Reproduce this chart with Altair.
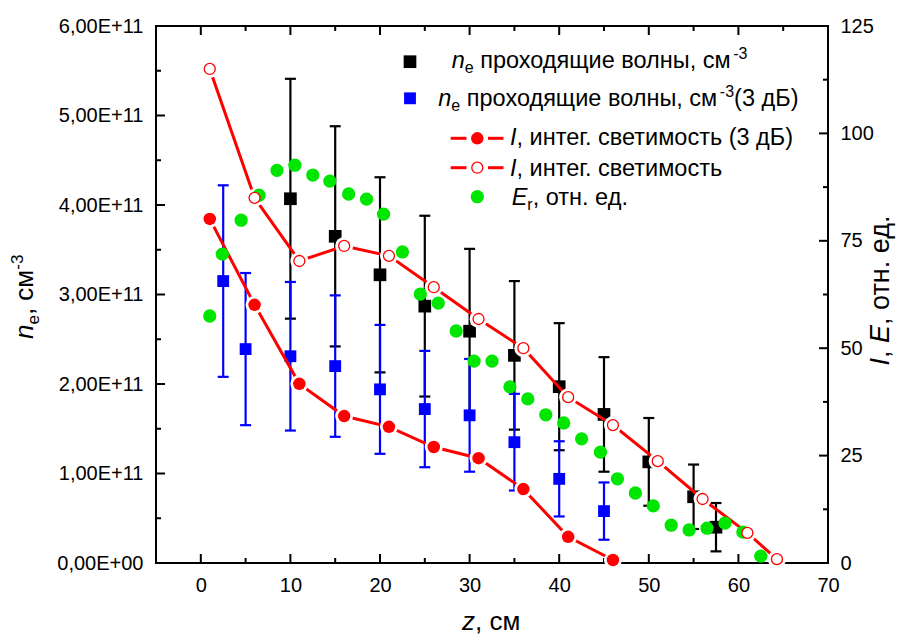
import altair as alt
import pandas as pd

FONT = "Liberation Sans"
RED = "#ff0000"
BLUE = "#0000ff"
GREEN = "#00e600"

# n_e of transmitted waves, cm^-3 (value and half-width of the error bar)
ne_z = [10, 15, 20, 25, 30, 35, 40, 45, 50, 55, 57.5]
ne_val = [4.07e11, 3.65e11, 3.22e11, 2.87e11, 2.59e11, 2.32e11, 1.97e11, 1.66e11, 1.13e11, 0.74e11, 0.40e11]
ne_err = [1.34e11, 1.23e11, 1.09e11, 1.01e11, 0.92e11, 0.83e11, 0.71e11, 0.64e11, 0.49e11, 0.36e11, 0.27e11]

# n_e of transmitted waves, 3 dB level
ne3_z = [2.5, 5, 10, 15, 20, 25, 30, 35, 40, 45]
ne3_val = [3.15e11, 2.39e11, 2.31e11, 2.20e11, 1.94e11, 1.72e11, 1.65e11, 1.35e11, 0.94e11, 0.58e11]
ne3_err = [1.07e11, 0.85e11, 0.83e11, 0.79e11, 0.72e11, 0.65e11, 0.63e11, 0.54e11, 0.42e11, 0.32e11]

# integral luminosity I (3 dB), rel. units
lum3_z = [1, 6, 11, 16, 21, 26, 31, 36, 41, 46]
lum3_val = [80.1, 60.1, 41.7, 34.2, 31.7, 27.0, 24.4, 17.2, 6.1, 0.7]

# integral luminosity I, rel. units
lum_z = [1, 6, 11, 16, 21, 26, 31, 36, 41, 46, 51, 56, 61, 64.3]
lum_val = [115.0, 85.0, 70.3, 73.8, 71.5, 64.2, 56.8, 50.0, 38.6, 32.1, 23.7, 14.9, 7.0, 0.9]

# E_r, rel. units
er_z = [1.0, 2.4, 4.5, 6.5, 8.5, 10.5, 12.5, 14.4, 16.5, 18.5, 20.4, 22.5, 24.5, 26.5, 28.5, 30.5,
        32.5, 34.5, 36.5, 38.5, 40.5, 42.5, 44.6, 46.5, 48.5, 50.5, 52.5, 54.5, 56.5, 58.5, 60.5, 62.5]
er_val = [57.5, 71.9, 79.8, 85.6, 91.4, 92.6, 90.3, 88.9, 85.9, 84.7, 81.2, 72.4, 62.6, 60.5, 54.0, 47.0,
          47.0, 41.0, 38.2, 34.5, 32.6, 28.9, 25.8, 19.6, 16.3, 13.3, 8.8, 7.7, 8.1, 9.3, 7.2, 1.6]

# axis ticks
x_major = [0, 10, 20, 30, 40, 50, 60, 70]
x_minor = [5, 15, 25, 35, 45, 55, 65]
left_major = [0, 1e11, 2e11, 3e11, 4e11, 5e11, 6e11]
left_minor = [0.5e11, 1.5e11, 2.5e11, 3.5e11, 4.5e11, 5.5e11]
right_major = [0, 25, 50, 75, 100, 125]
right_minor = [12.5, 37.5, 62.5, 87.5, 112.5]

W, H = 672, 537
MAJ, MIN = 9, 5

ne_df = pd.DataFrame({"z": ne_z, "v": ne_val, "e": ne_err})
ne3_df = pd.DataFrame({"z": ne3_z, "v": ne3_val, "e": ne3_err})
for d in (ne_df, ne3_df):
    d["lo"] = d["v"] - d["e"]
    d["hi"] = d["v"] + d["e"]
lum3_df = pd.DataFrame({"z": lum3_z, "v": lum3_val})
lum_df = pd.DataFrame({"z": lum_z, "v": lum_val})
er_df = pd.DataFrame({"z": er_z, "v": er_val})
ONE = pd.DataFrame({"k": [0]})

x_scale = alt.Scale(domain=[-5, 70], nice=False, zero=False)
yl_scale = alt.Scale(domain=[0, 6e11], nice=False, zero=False)
yr_scale = alt.Scale(domain=[0, 125], nice=False, zero=False)

axis_common = dict(grid=False, domain=False, ticks=False, tickSize=0, labelFont=FONT,
                   labelFontSize=20, labelColor="black", labelFlush=False,
                   labelOverlap=False, title=None)
x_axis = alt.Axis(values=x_major, format="d", labelPadding=12, orient="bottom", **axis_common)
yl_axis = alt.Axis(values=left_major, labelPadding=13, orient="left",
                   labelExpr="datum.value == 0 ? '0,00E+00' : "
                             "replace(format(datum.value / 1e11, '.2f'), '.', ',') + 'E+11'",
                   **axis_common)
yr_axis = alt.Axis(values=right_major, format="d", labelPadding=12, orient="right", **axis_common)


def X(f):
    return alt.X(f, type="quantitative", scale=x_scale, axis=x_axis)


def YL(f):
    return alt.Y(f, type="quantitative", scale=yl_scale, axis=yl_axis)


def YR(f):
    return alt.Y(f, type="quantitative", scale=yr_scale, axis=yr_axis)


# approximate Arial / Liberation Sans advance widths (per 1000 em)
ADV = {' ': 278, ',': 278, '.': 278, '-': 333, '(': 333, ')': 333, '+': 584,
       'E': 667, 'I': 278, 'n': 556, 'e': 556, 'r': 333, 'z': 500, 'а': 556, 'б': 572,
       'в': 531, 'г': 365, 'д': 584, 'е': 556, 'и': 560, 'к': 438, 'л': 584, 'м': 688,
       'н': 553, 'о': 556, 'п': 546, 'р': 556, 'с': 500, 'т': 459, 'у': 500, 'х': 500,
       'щ': 830, 'ы': 736, 'ь': 531, 'я': 542, 'Б': 667}


def text_width(s, size):
    return sum(ADV.get(c, 556) for c in s) / 1000 * size


def label(s, x, y, size, style="normal", angle=0):
    return alt.Chart(ONE).mark_text(
        text=s, font=FONT, fontSize=size, fontStyle=style, align="left",
        baseline="alphabetic", angle=angle, color="black",
    ).encode(x=alt.value(x), y=alt.value(y))


def rich(segs, x0, y0, angle=0):
    """Text made of runs: (text, size, style, baseline shift)."""
    out, adv = [], 0.0
    for s, size, style, shift in segs:
        lead = len(s) - len(s.lstrip(" "))
        adv += text_width(" " * lead, size)
        s = s.lstrip(" ")
        if angle == 0:
            out.append(label(s, x0 + adv, y0 + shift, size, style))
        else:  # rotated 270: runs go upward, glyph 'down' points to +x
            out.append(label(s, x0 + shift, y0 - adv, size, style, angle))
        adv += text_width(s, size)
    return out


def err_layers(df, color):
    bars = alt.Chart(df).mark_rule(color=color, strokeWidth=2.2).encode(
        x=X("z"), y=YL("lo"), y2=alt.Y2("hi"))
    caps = alt.Chart(df).transform_fold(["lo", "hi"], as_=["end", "yv"]).mark_rule(
        color=color, strokeWidth=2.2, xOffset=-5.5, x2Offset=5.5
    ).encode(x=X("z"), x2=alt.X2("z"), y=YL("yv"))
    return [bars, caps]


def tick_df(vals):
    return pd.DataFrame({"v": vals})


# ---------- left-axis group: n_e data ----------
left_layers = []
left_layers += err_layers(ne_df, "black")
left_layers += err_layers(ne3_df, BLUE)
left_layers.append(alt.Chart(ne_df).mark_square(size=161, color="black", opacity=1).encode(
    x=X("z"), y=YL("v")))
left_layers.append(alt.Chart(ne3_df).mark_square(size=140, color=BLUE, opacity=1).encode(
    x=X("z"), y=YL("v")))

# inward ticks: left, bottom, top
for vals, ln in ((left_major, MAJ), (left_minor, MIN)):
    left_layers.append(alt.Chart(tick_df(vals)).mark_rule(color="black", strokeWidth=2).encode(
        y=YL("v"), x=alt.value(0), x2=alt.value(ln)))
for vals, ln in ((x_major, MAJ), (x_minor, MIN)):
    left_layers.append(alt.Chart(tick_df(vals)).mark_rule(color="black", strokeWidth=2).encode(
        x=X("v"), y=alt.value(H), y2=alt.value(H - ln)))
    left_layers.append(alt.Chart(tick_df(vals)).mark_rule(color="black", strokeWidth=2).encode(
        x=X("v"), y=alt.value(0), y2=alt.value(ln)))

# legend: square markers
left_layers.append(alt.Chart(ONE).mark_square(size=161, color="black", opacity=1).encode(
    x=alt.value(254), y=alt.value(35.7)))
left_layers.append(alt.Chart(ONE).mark_square(size=140, color=BLUE, opacity=1).encode(
    x=alt.value(254), y=alt.value(72.3)))

# ---------- right-axis group: luminosity and E_r ----------
right_layers = []
for df in (lum3_df, lum_df):
    right_layers.append(alt.Chart(df).mark_line(color=RED, strokeWidth=3).encode(
        x=X("z"), y=YR("v")))
for df in (lum3_df, lum_df):
    right_layers.append(alt.Chart(df).mark_point(
        shape="circle", filled=True, color="white", size=324, opacity=1, strokeWidth=0
    ).encode(x=X("z"), y=YR("v")))
right_layers.append(alt.Chart(er_df).mark_point(
    shape="circle", filled=True, color=GREEN, size=177, opacity=1, strokeWidth=0
).encode(x=X("z"), y=YR("v")))
right_layers.append(alt.Chart(lum3_df).mark_point(
    shape="circle", filled=True, color=RED, size=156, opacity=1, strokeWidth=0
).encode(x=X("z"), y=YR("v")))
right_layers.append(alt.Chart(lum_df).mark_point(
    shape="circle", filled=True, fill="white", stroke=RED, strokeWidth=1.3, size=121, opacity=1
).encode(x=X("z"), y=YR("v")))

for vals, ln in ((right_major, MAJ), (right_minor, MIN)):
    right_layers.append(alt.Chart(tick_df(vals)).mark_rule(color="black", strokeWidth=2).encode(
        y=YR("v"), x=alt.value(W - ln), x2=alt.value(W)))

# legend: line + circle samples
for yy, open_marker in ((112.3, False), (141.7, True)):
    for a, b in ((294.7, 310.5), (332, 347.5)):
        right_layers.append(alt.Chart(ONE).mark_rule(color=RED, strokeWidth=3).encode(
            x=alt.value(a), x2=alt.value(b), y=alt.value(yy)))
    if open_marker:
        mk = alt.Chart(ONE).mark_point(shape="circle", filled=True, fill="white", stroke=RED,
                                       strokeWidth=1.3, size=121, opacity=1)
    else:
        mk = alt.Chart(ONE).mark_point(shape="circle", filled=True, color=RED, size=156,
                                       opacity=1, strokeWidth=0)
    right_layers.append(mk.encode(x=alt.value(321.3), y=alt.value(yy)))
right_layers.append(alt.Chart(ONE).mark_point(
    shape="circle", filled=True, color=GREEN, size=177, opacity=1, strokeWidth=0
).encode(x=alt.value(321.3), y=alt.value(170.7)))

# ---------- texts: legend entries and axis titles ----------
LS, SS = 23.5, 16
texts = []
texts += rich([("n", LS, "italic", 0), ("e", SS, "normal", 5),
               (" проходящие волны, см", LS, "normal", 0), ("-3", SS, "normal", -9)], 295.7, 41.5)
texts += rich([("n", LS, "italic", 0), ("e", SS, "normal", 5),
               (" проходящие волны, см", LS, "normal", 0), ("-3", SS, "normal", -9),
               ("(3 дБ)", LS, "normal", 0)], 282.3, 79.7)
texts += rich([("I", LS, "italic", 0), (", интег. светимость (3 дБ)", LS, "normal", 0)], 354, 119)
texts += rich([("I", LS, "italic", 0), (", интег. светимость", LS, "normal", 0)], 354, 149.5)
texts += rich([("E", LS, "italic", 0), ("r", SS, "normal", 5), (", отн. ед.", LS, "normal", 0)],
              355.7, 179)

TS, TSS = 26, 17
texts += rich([("z", TS, "italic", 0), (", см", TS, "normal", 0)], 306, 604)
texts += rich([("n", TS, "italic", 0), ("e", TSS, "normal", 6), (", см", TS, "normal", 0),
               ("-3", TSS, "normal", -10)], -123, 313, angle=270)
texts += rich([("I", 27, "italic", 0), (", ", 27, "normal", 0), ("E", 27, "italic", 0),
               (", отн. ед.", 27, "normal", 0)], 733, 339.5, angle=270)
right_layers += texts

left = alt.layer(*left_layers)
right = alt.layer(*right_layers)

chart = alt.layer(left, right).resolve_scale(y="independent").properties(
    width=W, height=H,
    autosize=alt.AutoSizeParams(type="none"),
    padding={"left": 156, "top": 26, "right": 897 - 156 - W, "bottom": 637 - 26 - H},
    background="white",
).configure_view(stroke="black", strokeWidth=2)

chart.save("out.html", embed_options={"renderer": "svg", "actions": False})
